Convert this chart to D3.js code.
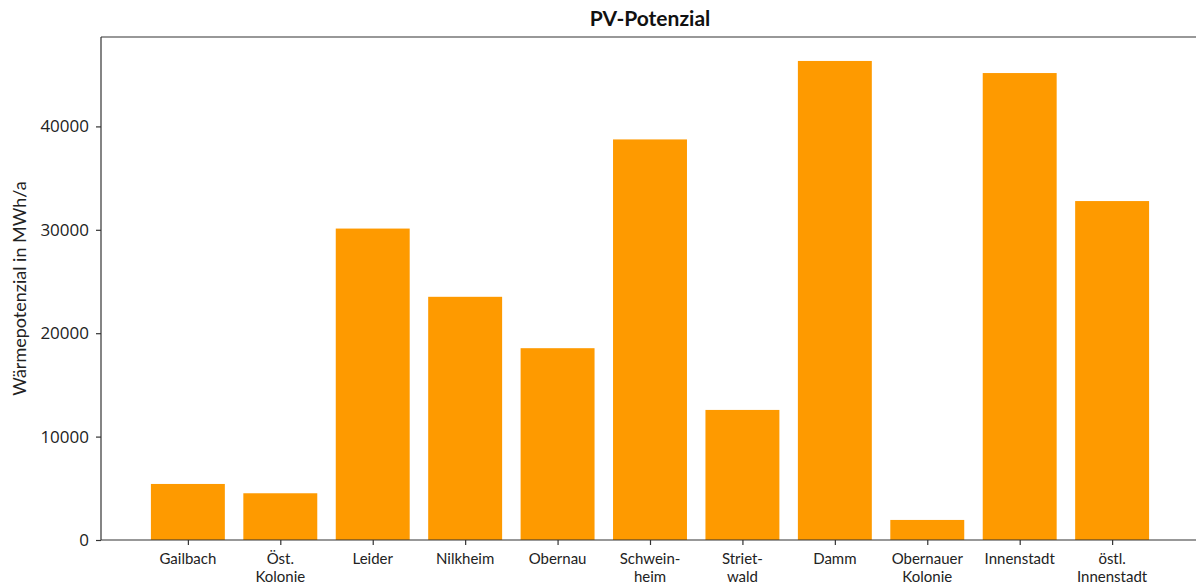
<!DOCTYPE html>
<html>
<head>
<meta charset="utf-8">
<script src="https://cdn.jsdelivr.net/npm/d3@7"></script>
<style>
  html, body { margin: 0; padding: 0; background: #fff; }
  svg { display: block; }
</style>
</head>
<body>
<svg id="chart" width="1196" height="585"></svg>
<script>
// District names (each entry is one or two label lines)
const districts = [
  ["Gailbach"], ["Öst.", "Kolonie"], ["Leider"], ["Nilkheim"], ["Obernau"],
  ["Schwein-", "heim"], ["Striet-", "wald"], ["Damm"], ["Obernauer", "Kolonie"],
  ["Innenstadt"], ["östl.", "Innenstadt"]
];
// PV potential per district in MWh/a
const pvPotential = [5420, 4520, 30120, 23520, 18550, 38740, 12580, 46330, 1940, 45160, 32780];
const yTicks = [0, 10000, 20000, 30000, 40000];

const svg = d3.select("#chart");
const margin = { left: 101, top: 37, bottom: 540 };
const plotRight = 1199;

// Numeric band positions, matplotlib style: bar width 0.8, 5% padding
const n = pvPotential.length;
const xLo = -0.4 - 0.05 * (n - 1 + 0.8);
const xHi = n - 1 + 0.4 + 0.05 * (n - 1 + 0.8);
const x = d3.scaleLinear().domain([xLo, xHi]).range([margin.left, plotRight]);
const yMax = d3.max(pvPotential) * 1.05;
const y = d3.scaleLinear().domain([0, yMax]).range([margin.bottom, margin.top]);

const barColor = "#fe9a00";

// Bars
svg.append("g").selectAll("rect")
  .data(pvPotential)
  .join("rect")
  .attr("x", (d, i) => x(i - 0.4))
  .attr("width", (d, i) => x(i + 0.4) - x(i - 0.4))
  .attr("y", d => y(d))
  .attr("height", d => y(0) - y(d))
  .attr("fill", barColor);

// Frame (spines)
const frame = svg.append("g").attr("stroke", "#333").attr("stroke-width", 1.2).attr("fill", "none");
frame.append("line").attr("x1", margin.left).attr("x2", margin.left).attr("y1", margin.top).attr("y2", margin.bottom);
frame.append("line").attr("x1", margin.left).attr("x2", plotRight).attr("y1", margin.bottom).attr("y2", margin.bottom);
frame.append("line").attr("x1", margin.left).attr("x2", plotRight).attr("y1", margin.top).attr("y2", margin.top);
frame.append("line").attr("x1", plotRight).attr("x2", plotRight).attr("y1", margin.top).attr("y2", margin.bottom);

// Y axis
const yAxis = svg.append("g")
  .attr("transform", `translate(${margin.left},0)`)
  .call(d3.axisLeft(y).tickValues(yTicks).tickSize(5).tickPadding(7).tickFormat(d3.format("d")));
yAxis.select(".domain").remove();
yAxis.selectAll(".tick line").attr("stroke", "#333").attr("stroke-width", 1.2);
yAxis.selectAll(".tick text")
  .attr("fill", "#222")
  .style("font-family", "'Open Sans', sans-serif")
  .style("font-size", "17px");

// X axis ticks and labels
const xAxis = svg.append("g")
  .attr("transform", `translate(0,${margin.bottom})`)
  .call(d3.axisBottom(x).tickValues(d3.range(n)).tickSize(5).tickFormat(""));
xAxis.select(".domain").remove();
xAxis.selectAll(".tick line").attr("stroke", "#333").attr("stroke-width", 1.2);

const labels = svg.append("g")
  .style("font-family", "Lato, 'Open Sans', sans-serif")
  .style("font-size", "15px")
  .attr("fill", "#222")
  .attr("text-anchor", "middle");
districts.forEach((lines, i) => {
  const t = labels.append("text").attr("x", x(i)).attr("y", 564);
  lines.forEach((line, k) => {
    t.append("tspan").attr("x", x(i)).attr("dy", k === 0 ? 0 : 18).text(line);
  });
});

// Title
svg.append("text")
  .attr("x", (margin.left + plotRight) / 2)
  .attr("y", 26)
  .attr("text-anchor", "middle")
  .style("font-family", "Lato, 'Open Sans', sans-serif")
  .style("font-weight", "bold")
  .style("font-size", "21px")
  .attr("fill", "#111")
  .text("PV-Potenzial");

// Y axis label
svg.append("text")
  .attr("transform", `translate(26,${(margin.top + margin.bottom) / 2}) rotate(-90)`)
  .attr("text-anchor", "middle")
  .style("font-family", "Lato, 'Open Sans', sans-serif")
  .style("font-size", "18px")
  .attr("fill", "#222")
  .text("Wärmepotenzial in MWh/a");
</script>
</body>
</html>
